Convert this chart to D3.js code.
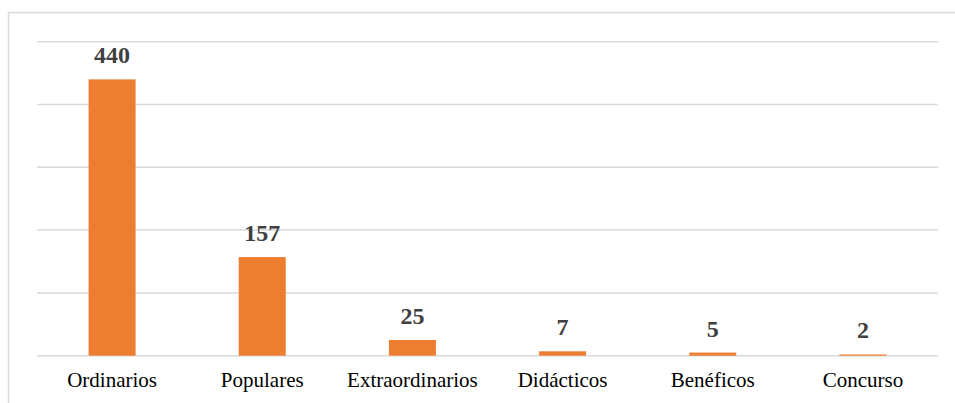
<!DOCTYPE html>
<html><head><meta charset="utf-8">
<script src="https://cdn.jsdelivr.net/npm/d3@7"></script>
<style>html,body{margin:0;padding:0;background:#fff;}
text{font-family:"Liberation Serif","Times New Roman",Times,serif;}</style>
</head><body>
<svg id="chart" width="955" height="403"></svg>
<script>
const categories = ["Ordinarios","Populares","Extraordinarios","Didácticos","Benéficos","Concurso"];
const values = [440,157,25,7,5,2];
const yTicks = [0,100,200,300,400,500];

const svg = d3.select("#chart");
const m = {left:37, right:17, top:41.7, bottom:47.3};
const W = 955, H = 403;
const FONT = '"Liberation Serif","Times New Roman",Times,serif';

svg.append("rect").attr("x",8.5).attr("y",12.5).attr("width",960).attr("height",420)
  .attr("fill","#fff").attr("stroke","#d9d9d9").attr("stroke-width",1.5);

const x = d3.scaleBand().domain(categories).range([m.left, W-m.right]).paddingInner(0.687).paddingOuter(0.3435);
const y = d3.scaleLinear().domain([0,500]).range([H-m.bottom, m.top]);

svg.append("g").selectAll("line").data(yTicks).join("line")
  .attr("x1",m.left).attr("x2",W-m.right)
  .attr("y1",d=>y(d)).attr("y2",d=>y(d))
  .attr("stroke","#d9d9d9").attr("stroke-width",1.5);

svg.append("g").selectAll("rect").data(values).join("rect")
  .attr("x",(d,i)=>x(categories[i])).attr("width",x.bandwidth())
  .attr("y",d=>y(d)).attr("height",d=>y(0)-y(d))
  .attr("fill","#ed7d31");

svg.append("g").selectAll("text").data(values).join("text")
  .attr("x",(d,i)=>x(categories[i])+x.bandwidth()/2)
  .attr("y",d=>y(d)-16)
  .attr("text-anchor","middle")
  .style("font-family",FONT)
  .attr("font-weight","bold").attr("font-size",24).attr("fill","#404040")
  .text(d=>d);

const xAxis = d3.axisBottom(x).tickSize(0).tickPadding(0);
const ga = svg.append("g").attr("transform",`translate(0,${y(0)})`).call(xAxis)
  .attr("font-family",null);
ga.select(".domain").remove();
ga.selectAll("text").attr("y",31).attr("dy",0)
  .style("font-family",FONT)
  .attr("font-size",21).attr("fill","#000");
</script>
</body></html>
